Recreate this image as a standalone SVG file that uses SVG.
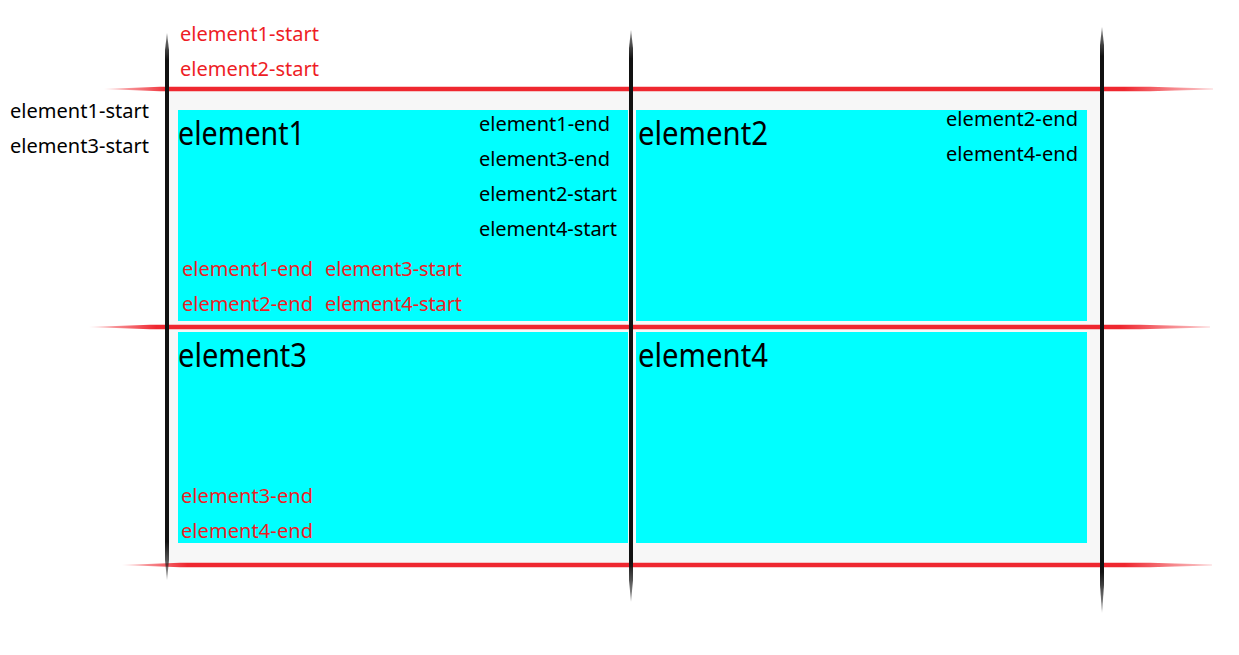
<svg xmlns="http://www.w3.org/2000/svg" width="1239" height="655" viewBox="0 0 1239 655">
  <defs>
    <style>
      .lbl { font-family: "Noto Sans", "Open Sans", sans-serif; font-size: 20px; }
      .red { fill: #ee1c25; }
      .blk { fill: #000000; }
      .big { font-family: "Noto Sans", "Open Sans", sans-serif; font-size: 32px; fill: #000000; }
      .box { fill: #00ffff; }
      .hline { fill: url(#redGrad); }
      .vline { fill: url(#blkGrad); }
    </style>
    <linearGradient id="redGrad" x1="0" y1="0" x2="1" y2="0">
      <stop offset="0" stop-color="#ee1c25" stop-opacity="0.2"/>
      <stop offset="0.06" stop-color="#ee1c25" stop-opacity="0.95"/>
      <stop offset="0.92" stop-color="#ee1c25" stop-opacity="0.95"/>
      <stop offset="1" stop-color="#ee1c25" stop-opacity="0.2"/>
    </linearGradient>
    <linearGradient id="blkGrad" x1="0" y1="0" x2="0" y2="1">
      <stop offset="0" stop-color="#111111" stop-opacity="0.5"/>
      <stop offset="0.05" stop-color="#111111" stop-opacity="1"/>
      <stop offset="0.93" stop-color="#111111" stop-opacity="1"/>
      <stop offset="1" stop-color="#111111" stop-opacity="0.4"/>
    </linearGradient>
  </defs>

  <rect id="container" x="167" y="89" width="935" height="476" fill="#f7f7f7"/>

  <g id="element1">
    <rect class="box" x="178" y="110" width="450" height="211"/>
    <text class="big" x="178" y="145" textLength="127" lengthAdjust="spacingAndGlyphs">element1</text>
  </g>
  <g id="element2">
    <rect class="box" x="636" y="110" width="451" height="211"/>
    <text class="big" x="638" y="145" textLength="130" lengthAdjust="spacingAndGlyphs">element2</text>
  </g>
  <g id="element3">
    <rect class="box" x="178" y="332" width="450" height="211"/>
    <text class="big" x="178" y="367" textLength="129" lengthAdjust="spacingAndGlyphs">element3</text>
  </g>
  <g id="element4">
    <rect class="box" x="636" y="332" width="451" height="211"/>
    <text class="big" x="638" y="367" textLength="130" lengthAdjust="spacingAndGlyphs">element4</text>
  </g>

  <g id="connectors">
    <path class="hline" d="M104,89 L160,86.8 L1150,86.8 L1175,87.6 L1213,88.6 L1213,89.4 L1175,90.4 L1150,91.2 L160,91.2 Z"/>
    <path class="hline" d="M89,327 L150,324.8 L1140,324.8 L1170,325.6 L1210,326.6 L1210,327.4 L1170,328.4 L1140,329.2 L150,329.2 Z"/>
    <path class="hline" d="M122,565 L180,562.8 L1150,562.8 L1175,563.6 L1212,564.6 L1212,565.4 L1175,566.4 L1150,567.2 L180,567.2 Z"/>
    <path class="vline" d="M167,33 L169,50 L169,560 L167,580 L165,560 L165,50 Z"/>
    <path class="vline" d="M631,30 L633,48 L633,580 L631,602 L629,580 L629,48 Z"/>
    <path class="vline" d="M1102,27 L1104,45 L1104,585 L1102,613 L1100,585 L1100,45 Z"/>
  </g>

  <g id="labels">
    <text class="lbl red" x="180" y="41" textLength="139">element1-start</text>
    <text class="lbl red" x="180" y="76" textLength="139">element2-start</text>
    <text class="lbl blk" x="10" y="118" textLength="139">element1-start</text>
    <text class="lbl blk" x="10" y="153" textLength="139">element3-start</text>

    <text class="lbl blk" x="479" y="131" textLength="131">element1-end</text>
    <text class="lbl blk" x="479" y="166" textLength="131">element3-end</text>
    <text class="lbl blk" x="479" y="201" textLength="138">element2-start</text>
    <text class="lbl blk" x="479" y="236" textLength="138">element4-start</text>

    <text class="lbl blk" x="946" y="126" textLength="132">element2-end</text>
    <text class="lbl blk" x="946" y="161" textLength="132">element4-end</text>

    <text class="lbl red" x="182" y="276" textLength="131">element1-end</text>
    <text class="lbl red" x="182" y="311" textLength="131">element2-end</text>
    <text class="lbl red" x="325" y="276" textLength="137">element3-start</text>
    <text class="lbl red" x="325" y="311" textLength="137">element4-start</text>

    <text class="lbl red" x="181" y="503" textLength="132">element3-end</text>
    <text class="lbl red" x="181" y="538" textLength="132">element4-end</text>
  </g>
</svg>
